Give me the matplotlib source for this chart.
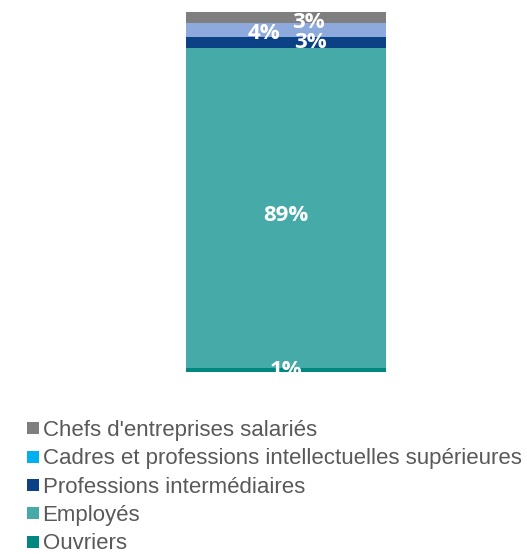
import matplotlib.pyplot as plt
from matplotlib.lines import Line2D

# categories from bottom to top of the stacked bar
categories = ['Ouvriers', 'Employés', 'Professions intermédiaires',
              'Cadres et professions intellectuelles supérieures',
              "Chefs d'entreprises salariés"]
values = [1, 89, 3, 4, 3]
labels = ['1%', '89%', '3%', '4%', '3%']

bar_colors = ['#00877F', '#45AAA8', '#0B4285', '#8EA9DB', '#7F7F7F']
legend_colors = ['#00877F', '#45AAA8', '#0B4285', '#00B0F0', '#7F7F7F']
# small horizontal/vertical shifts of the data labels (Excel-style overlap avoidance)
label_dx = [0, 0, 0.12, -0.11, 0.11]
label_dy = [0, -1.9, 0.0, -1.0, -1.3]

fig = plt.figure(figsize=(5.27, 5.54), dpi=100)
ax = fig.add_axes([186 / 527, (554 - 372) / 554, 200 / 527, 360 / 554])

bottom = 0
for v, c, lab, dx, dy in zip(values, bar_colors, labels, label_dx, label_dy):
    ax.bar(0, v, width=1, bottom=bottom, color=c, edgecolor='none')
    t = ax.text(dx, bottom + v / 2 + dy, lab, ha='center', va='center',
                color='white', fontweight='bold', fontsize=16, family='Open Sans')
    t.set_clip_on(True)
    bottom += v

ax.set_xlim(-0.5, 0.5)
ax.set_ylim(0, 100)
ax.axis('off')

handles = [Line2D([], [], marker='s', linestyle='none', markersize=9,
                  color=c, markeredgewidth=0) for c in legend_colors]
leg = fig.legend(handles[::-1], categories[::-1], loc='upper left',
                 bbox_to_anchor=(27 / 527, 1 - 420 / 554), frameon=False,
                 handlelength=0.5, handletextpad=0.2, labelspacing=0.33,
                 borderpad=0, borderaxespad=0,
                 prop={'family': 'Liberation Sans', 'size': 16})
for txt in leg.get_texts():
    txt.set_color('#595959')

fig.savefig('out.png', dpi=100)
